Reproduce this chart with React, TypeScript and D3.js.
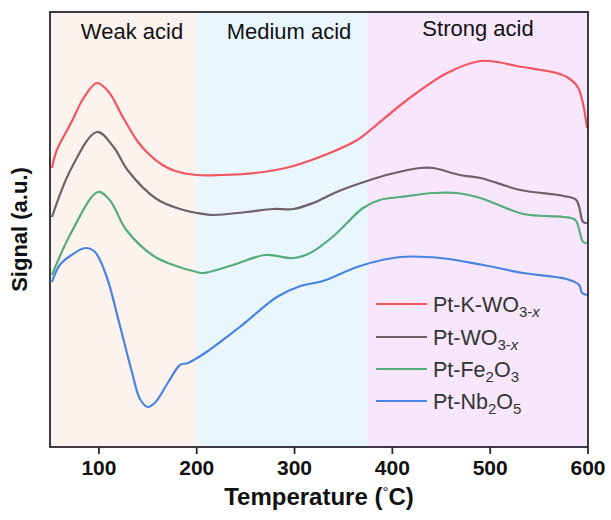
import React from "react";
import * as d3 from "d3";

const W = 611, H = 520;
const M = { left: 50, right: 588, top: 12, bottom: 447 };

const xTicks = [100, 200, 300, 400, 500, 600];
const regionNames = ["Weak acid", "Medium acid", "Strong acid"];
const regionBounds = [[50, 200], [200, 375], [375, 600]];
const regionLabelCenters = [132, 289, 478];
const regionFills = ["#FDF3EE", "#E9F6FE", "#F8E7FC"];

const seriesNames = ["Pt-K-WO3-x", "Pt-WO3-x", "Pt-Fe2O3", "Pt-Nb2O5"];
const seriesColors = ["#F25560", "#6E6268", "#55AC7C", "#4A84E2"];

const redK: [number, number][] = [[52,279],[57,297],[72,325],[85,350],[98,364],[110,355],[125,329],[140,305],[152,292],[165,282],[178,276],[200,272],[225,272],[260,274],[295,280],[336,294],[364,307],[380,319],[415,347],[456,374],[490,386],[507,385],[527,381],[568,374],[580,369],[590,359],[599,319]];
const grayWO: [number, number][] = [[52,230],[72,279],[98,315],[115,300],[130,276],[159,248],[183,238],[200,234],[217,232],[251,235],[278,238],[299,238],[319,244],[343,255],[374,266],[398,273],[428,279],[442,279],[469,272],[490,269],[531,257],[575,251],[588,247],[595,225],[599,224]];
const greenFe: [number, number][] = [[52,172],[72,215],[99,255],[111,247],[128,217],[156,191],[176,182],[200,175],[207,174],[237,182],[270,192],[299,189],[316,194],[340,211],[370,239],[387,247],[408,250],[442,254],[466,254],[490,249],[534,233],[575,230],[587,227],[595,205],[599,204]];
const blueNb: [number, number][] = [[52,165],[60,182],[72,192],[86,199],[96,195],[108,170],[120,127],[134,74],[142,48],[150,40],[158,45],[171,65],[183,82],[191,84],[210,95],[244,120],[282,150],[306,161],[329,166],[367,181],[408,190],[449,189],[493,182],[534,174],[578,168],[591,162],[594,154],[600,152]];

const allSeries = [redK, grayWO, greenFe, blueNb];

const FONT = "Arial, 'Liberation Sans', sans-serif";

function LegendLabel({ i }: { i: number }) {
  const sub = { fontSize: 15, baselineShift: "-30%" } as any;
  if (i === 0)
    return (<>Pt-K-WO<tspan style={sub}>3-<tspan fontStyle="italic">x</tspan></tspan></>);
  if (i === 1)
    return (<>Pt-WO<tspan style={sub}>3-<tspan fontStyle="italic">x</tspan></tspan></>);
  if (i === 2)
    return (<>Pt-Fe<tspan style={sub}>2</tspan>O<tspan style={sub}>3</tspan></>);
  return (<>Pt-Nb<tspan style={sub}>2</tspan>O<tspan style={sub}>5</tspan></>);
}

export default function App() {
  const x = d3.scaleLinear().domain([50, 600]).range([M.left, M.right]);
  const y = d3.scaleLinear().domain([0, 435]).range([M.bottom, M.top]);
  const line = d3
    .line<[number, number]>()
    .x((d) => x(d[0]))
    .y((d) => y(d[1]))
    .curve(d3.curveCatmullRom.alpha(0.5));

  const legendY = [304, 337, 369, 401];

  return (
    <svg width={W} height={H} style={{ display: "block", position: "absolute", left: 0, top: 0 }} fontFamily={FONT}>
      <rect x={0} y={0} width={W} height={H} fill="#fff" />
      {regionNames.map((n, i) => (
        <rect key={n} x={x(regionBounds[i][0])} y={M.top} width={x(regionBounds[i][1]) - x(regionBounds[i][0])} height={M.bottom - M.top} fill={regionFills[i]} />
      ))}
      {regionNames.map((n, i) => (
        <text key={n + "t"} x={regionLabelCenters[i]} y={i === 2 ? 36 : 39} textAnchor="middle" fontSize={22} fill="#111">
          {n}
        </text>
      ))}
      {allSeries.map((s, i) => (
        <path key={i} d={line(s) || ""} fill="none" stroke={seriesColors[i]} strokeWidth={2.2} />
      ))}
      {seriesNames.map((n, i) => (
        <g key={n}>
          <line x1={376} x2={427} y1={legendY[i]} y2={legendY[i]} stroke={seriesColors[i]} strokeWidth={2} />
          <text x={433} y={legendY[i] + 8} fontSize={21.5} fill="#333">
            <LegendLabel i={i} />
          </text>
        </g>
      ))}
      <rect x={M.left} y={M.top} width={M.right - M.left} height={M.bottom - M.top} fill="none" stroke="#2b2530" strokeWidth={1.8} />
      {xTicks.map((t) => (
        <g key={t}>
          <line x1={x(t)} x2={x(t)} y1={M.bottom} y2={M.bottom + 7} stroke="#2b2530" strokeWidth={1.8} />
          <text x={x(t)} y={M.bottom + 28} textAnchor="middle" fontSize={21} fontWeight="bold" fill="#111">
            {t}
          </text>
        </g>
      ))}
      <text x={(M.left + M.right) / 2} y={505} textAnchor="middle" fontSize={24} fontWeight="bold" fill="#111">
        Temperature (<tspan fontSize={15} dy={-8} fontWeight="normal">°</tspan><tspan dy={8}>C)</tspan>
      </text>
      <text transform={`translate(27,${(M.top + M.bottom) / 2}) rotate(-90)`} textAnchor="middle" fontSize={22} fontWeight="bold" fill="#111">
        Signal (a.u.)
      </text>
    </svg>
  );
}
